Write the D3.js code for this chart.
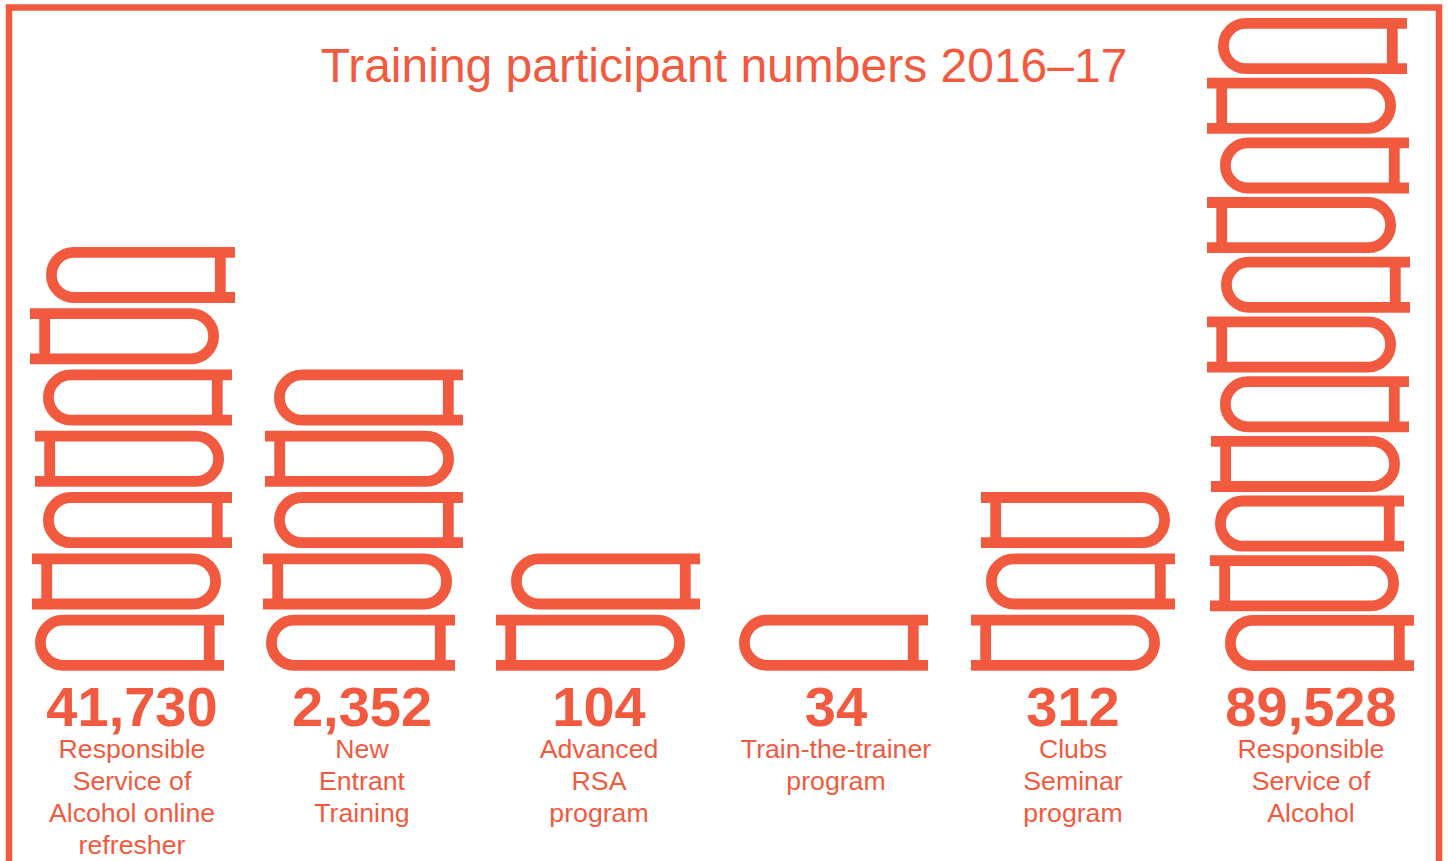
<!DOCTYPE html>
<html><head><meta charset="utf-8">
<script src="https://cdn.jsdelivr.net/npm/d3@7"></script>
<style>html,body{margin:0;padding:0;background:#fff;overflow:hidden}svg{display:block}text{font-family:"Liberation Sans",Arial,sans-serif}</style>
</head><body><svg id="c" width="1448" height="861"></svg>
<script>
const titleText = "Training participant numbers 2016–17";
const categories = ["rsaOnline","newEntrant","advanced","trainer","clubs","rsa"];
const participants = [41730, 2352, 104, 34, 312, 89528];
const bookCounts = [7, 5, 2, 1, 3, 11];
const labelLines = [
  ["Responsible","Service of","Alcohol online","refresher"],
  ["New","Entrant","Training"],
  ["Advanced","RSA","program"],
  ["Train-the-trainer","program"],
  ["Clubs","Seminar","program"],
  ["Responsible","Service of","Alcohol"]
];
// Layout only: hand-stacked sideways shift of each book, and whether its round end faces left
const bookShifts = [
  [-5,-8,3,-5,3,-10,6],
  [0,-3,8,-1,8],
  [0,15],
  [0],
  [0,15,10],
  [0,-15,-10,-14,-5,-18,-4,-18,-5,-18,-7]
];
const firstRoundLeft = [true,true,false,true,false,true];

const color = "#f25a40";
const W = 1448, H = 861;
const svg = d3.select("#c");

const labelCenter = d3.scaleOrdinal().domain(categories).range([132,362,599,836,1073,1311]);
const bookAnchor = d3.scaleOrdinal().domain(categories).range([40,266,496,739,971,1225]);
const bookW = 189, bookH = 56, sw = 10.8;
const stackY = d3.scaleLinear().domain([0,1]).range([614.7,553.4]);
const tallY = d3.scaleLinear().domain([0,1]).range([615,555.3]);
const fmt = d3.format(",");

svg.append("path")
  .attr("d", d3.line()([[9,H],[9,7.5],[1439,7.5],[1439,H]]))
  .attr("fill","none").attr("stroke",color).attr("stroke-width",6.5);

svg.append("text").attr("x",724).attr("y",81.5).attr("text-anchor","middle")
  .attr("font-size",48).attr("fill",color).text(titleText);

function bookPath(x0, y0, roundLeft) {
  const p = d3.path(), x1 = x0 + bookW, t = y0 + sw/2, b = y0 + bookH - sw/2, r = (b - t)/2;
  if (roundLeft) {
    p.moveTo(x1, t); p.lineTo(x0 + sw/2 + r, t);
    p.arc(x0 + sw/2 + r, t + r, r, -Math.PI/2, Math.PI/2, true);
    p.lineTo(x1, b);
    const s = x1 - 9.3 - sw/2; p.moveTo(s, t); p.lineTo(s, b);
  } else {
    p.moveTo(x0, t); p.lineTo(x1 - sw/2 - r, t);
    p.arc(x1 - sw/2 - r, t + r, r, -Math.PI/2, Math.PI/2, false);
    p.lineTo(x0, b);
    const s = x0 + 9.3 + sw/2; p.moveTo(s, t); p.lineTo(s, b);
  }
  return p.toString();
}

const cols = svg.selectAll("g.col").data(categories).join("g").attr("class","col");
cols.each(function(cat, i) {
  const g = d3.select(this);
  const y = bookCounts[i] > 7 ? tallY : stackY;
  g.selectAll("path").data(d3.range(bookCounts[i])).join("path")
    .attr("d", k => bookPath(bookAnchor(cat) + bookShifts[i][k], y(k), (k % 2 === 0) === firstRoundLeft[i]))
    .attr("fill","none").attr("stroke",color).attr("stroke-width",sw);
  g.append("text").attr("x",labelCenter(cat)).attr("y",726).attr("text-anchor","middle")
    .attr("font-size",56).attr("font-weight","bold").attr("fill",color).text(fmt(participants[i]));
  g.selectAll("text.l").data(labelLines[i]).join("text").attr("class","l")
    .attr("x",labelCenter(cat)).attr("y",(d,k)=>758+32*k).attr("text-anchor","middle")
    .attr("font-size",26.7).attr("fill",color).text(d=>d);
});
</script></body></html>
